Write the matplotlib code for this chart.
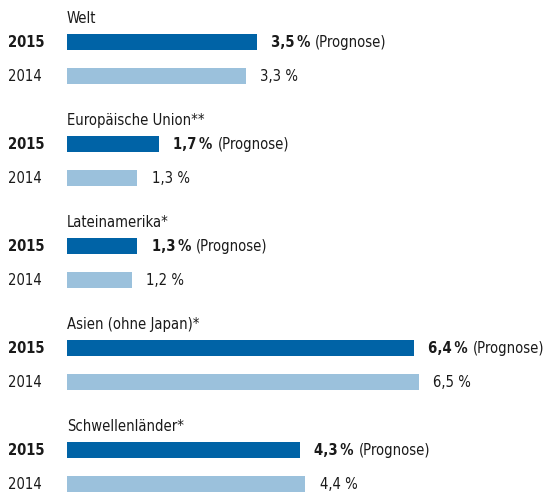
import matplotlib
matplotlib.use("Agg")
import matplotlib.pyplot as plt
from matplotlib.transforms import offset_copy

regions = ["Welt", "Europäische Union**", "Lateinamerika*", "Asien (ohne Japan)*", "Schwellenländer*"]
values_2015 = [3.5, 1.7, 1.3, 6.4, 4.3]
values_2014 = [3.3, 1.3, 1.2, 6.5, 4.4]
years = ["2015", "2014"]

dark = "#0063a6"
light = "#9bc1dc"
txt = "#1a1a1a"

plt.rcParams['font.family'] = ['DejaVu Sans']
plt.rcParams['font.stretch'] = 'condensed'

fig = plt.figure(figsize=(5.46, 4.94), dpi=100)
ax = fig.add_axes([0, 0, 1, 1])
ax.set_xlim(-67 / 54.2, (546 - 67) / 54.2)
ax.set_ylim(14.29, -0.235)
ax.axis("off")


def fmt(v, sep=" "):
    return f"{v:.1f}".replace(".", ",") + sep + "%"


fs = 10.6
for i, name in enumerate(regions):
    base = i * 3
    ax.text(0, base + 0.3, name, ha="left", va="center", fontsize=fs, color=txt)
    y15 = base + 1
    y14 = base + 2
    ax.barh(y15, values_2015[i], height=0.47, color=dark, left=0)
    ax.barh(y14, values_2014[i], height=0.47, color=light, left=0)
    ax.text(-1.09, y15, years[0], ha="left", va="center", fontsize=fs,
            fontweight="bold", color=txt)
    ax.text(-1.09, y14, years[1], ha="left", va="center", fontsize=fs, color=txt)
    t = ax.text(values_2015[i] + 0.26, y15, fmt(values_2015[i], "\u2009"), ha="left",
                va="center", fontsize=fs, fontweight="bold", color=txt)
    fig.canvas.draw()
    bb = t.get_window_extent()
    x_end = ax.transData.inverted().transform((bb.x1, bb.y0))[0]
    ax.text(x_end, y15, "(Prognose)", ha="left", va="center", fontsize=fs,
            color=txt, transform=offset_copy(ax.transData, fig=fig, x=5, units="dots"))
    ax.text(values_2014[i] + 0.26, y14, fmt(values_2014[i]), ha="left",
            va="center", fontsize=fs, color=txt)

fig.savefig("out.png", dpi=100)
